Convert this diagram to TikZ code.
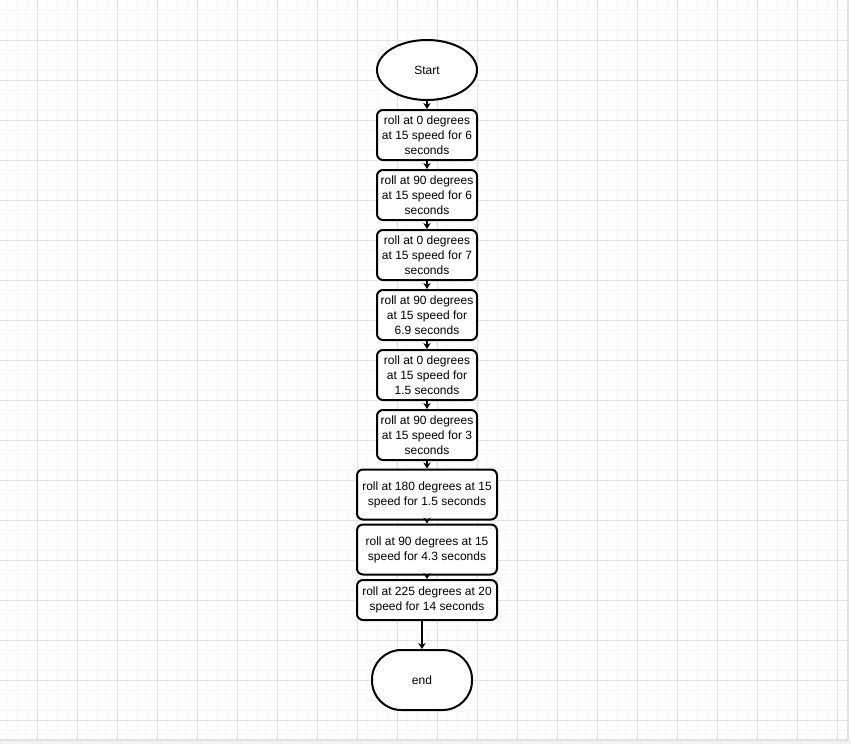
\documentclass[tikz,border=0pt]{standalone}
\usepackage{fontspec}
\setmainfont{Liberation Sans}
\usetikzlibrary{shapes.geometric,arrows.meta}
\definecolor{gridminor}{HTML}{F7F7F7}
\definecolor{gridmajor}{HTML}{E2E2E2}
\definecolor{pageedge}{HTML}{F2F2F2}
\tikzset{
  flowbase/.style={draw=black, line width=1.5pt, fill=white, align=center, inner sep=0pt,
    font=\fontsize{9pt}{11.25pt}\selectfont},
  stepbox/.style={flowbase, rectangle, rounded corners=4.5pt, minimum width=75pt, minimum height=37.5pt},
  widebox/.style={flowbase, rectangle, rounded corners=4.5pt, minimum width=105pt, minimum height=37.5pt},
  lowbox/.style={flowbase, rectangle, rounded corners=4.5pt, minimum width=105pt, minimum height=30pt},
  startnode/.style={flowbase, ellipse, minimum width=75pt, minimum height=45pt},
  endnode/.style={flowbase, rectangle, rounded corners=22pt, minimum width=75pt, minimum height=45pt},
  flowarrow/.style={draw=black, line width=0.9pt, -{Stealth[length=4.5pt, width=5.5pt]}}
}
\begin{document}
\begin{tikzpicture}[x=0.75pt, y=-0.75pt]
  \useasboundingbox (0,0) rectangle (851,744);
  % background and grid
  \fill[white] (0,0) rectangle (851,744);
  \foreach \gx in {7,17,...,847} \draw[gridminor, line width=0.75pt] (\gx,0) -- (\gx,740);
  \foreach \gy in {10,20,...,740} \draw[gridminor, line width=0.75pt] (0,\gy) -- (847,\gy);
  \foreach \gx in {37,77,...,847} \draw[gridmajor, line width=0.75pt] (\gx,0) -- (\gx,740);
  \foreach \gy in {40,80,...,720} \draw[gridmajor, line width=0.75pt] (0,\gy) -- (847,\gy);
  \fill[pageedge] (0,740) rectangle (851,744);
  \draw[gridmajor, line width=1pt] (0,740) -- (848,740);
  \draw[gridmajor, line width=1pt] (848,0) -- (848,740);

  % flowchart nodes
  \node[startnode] (start) at (427,70) {Start};
  \node[stepbox] (s1) at (427,135) {roll at 0 degrees\\at 15 speed for 6\\seconds};
  \node[stepbox] (s2) at (427,195) {roll at 90 degrees\\at 15 speed for 6\\seconds};
  \node[stepbox] (s3) at (427,255) {roll at 0 degrees\\at 15 speed for 7\\seconds};
  \node[stepbox] (s4) at (427,315) {roll at 90 degrees\\at 15 speed for\\6.9 seconds};
  \node[stepbox] (s5) at (427,375) {roll at 0 degrees\\at 15 speed for\\1.5 seconds};
  \node[stepbox] (s6) at (427,435) {roll at 90 degrees\\at 15 speed for 3\\seconds};
  \node[widebox] (s7) at (427,494.5) {roll at 180 degrees at 15\\speed for 1.5 seconds};
  \node[widebox] (s8) at (427,549.5) {roll at 90 degrees at 15\\speed for 4.3 seconds};
  \node[lowbox] (s9) at (427,600) {roll at 225 degrees at 20\\speed for 14 seconds};
  \node[endnode] (stop) at (422,680) {end};

  % connectors
  \draw[flowarrow] (start) -- (s1);
  \draw[flowarrow] (s1) -- (s2);
  \draw[flowarrow] (s2) -- (s3);
  \draw[flowarrow] (s3) -- (s4);
  \draw[flowarrow] (s4) -- (s5);
  \draw[flowarrow] (s5) -- (s6);
  \draw[flowarrow] (s6) -- (s7);
  \draw[flowarrow] (s7) -- (s8);
  \draw[flowarrow] (s8) -- (s9);
  \draw[flowarrow] (s9.south -| stop.north) -- (stop.north);
\end{tikzpicture}
\end{document}
